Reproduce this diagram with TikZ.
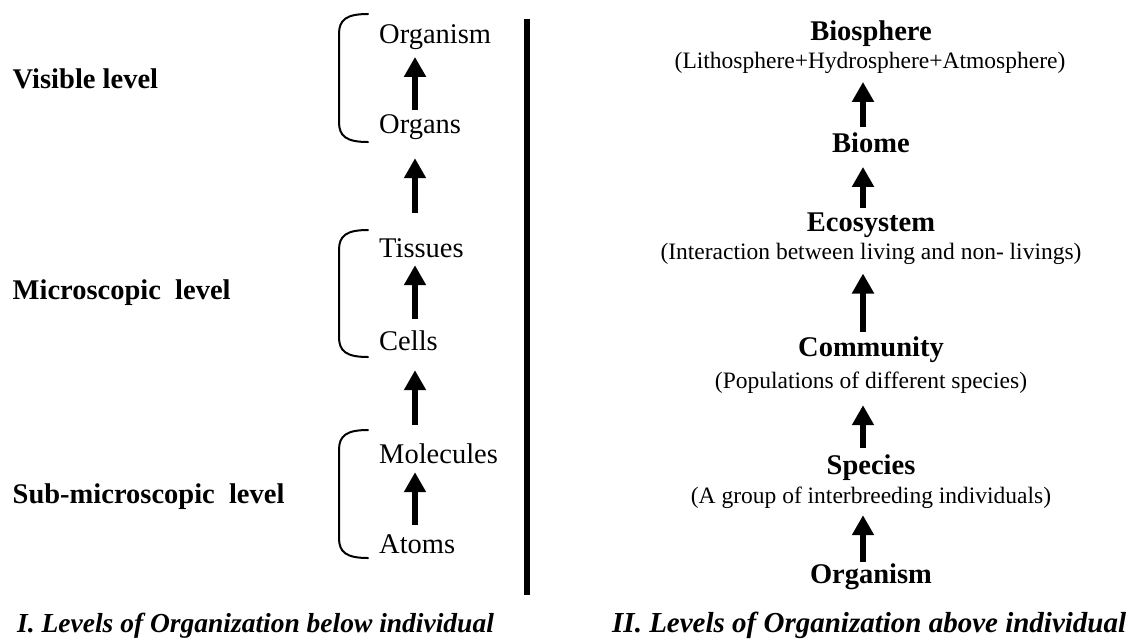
\documentclass[tikz,border=0pt]{standalone}
\usepackage{fontspec}
\setmainfont{Liberation Serif}
\usetikzlibrary{arrows.meta}
\tikzset{
  item/.style={inner sep=0pt, text height=19pt, text depth=6pt, anchor=base,
    font=\fontsize{28.5}{30}\selectfont},
  itemL/.style={item, anchor=base west},
  title/.style={item, font=\fontsize{28.5}{30}\selectfont\bfseries},
  sub/.style={inner sep=0pt, text height=16pt, text depth=5pt, anchor=base,
    font=\fontsize{23.5}{25}\selectfont},
  levlabel/.style={inner sep=0pt, anchor=base west, font=\fontsize{28.5}{30}\selectfont\bfseries},
  caption/.style={inner sep=0pt, anchor=base west, font=\bfseries\itshape},
  lvlarrow/.style={line width=6pt, -{Triangle[width=21pt,length=20pt]}},
  brace/.style={line width=2pt, line cap=round},
  divider/.style={line width=6pt}
}
\begin{document}
\begin{tikzpicture}[x=1pt,y=-1pt]
\useasboundingbox (0,0) rectangle (1134,638);
% arrow axes
\coordinate (lax) at (415,0);
\coordinate (rax) at (863,0);
% left column labels
\node[levlabel] (vis) at (12.5,88) {Visible level};
\node[levlabel] (mic) at (12.5,299) {Microscopic\ \ level};
\node[levlabel] (sub) at (12.5,503) {Sub-microscopic\ \ level};
% left column items
\node[itemL] (organismL) at (379,43.3) {Organism};
\node[itemL] (organs) at (379,133.3) {Organs};
\node[itemL] (tissues) at (379,257.3) {Tissues};
\node[itemL] (cells) at (379,350) {Cells};
\node[itemL] (molecules) at (379,463.3) {Molecules};
\node[itemL] (atoms) at (379,553.3) {Atoms};
% brackets
\draw[brace] (368,14) .. controls (346,14) and (339,20) .. (339,34) -- (339,122) .. controls (339,136) and (346,142) .. (368,142);
\draw[brace] (368,230) .. controls (346,230) and (339,236) .. (339,250) -- (339,337) .. controls (339,351) and (346,357) .. (368,357);
\draw[brace] (368,430) .. controls (346,430) and (339,436) .. (339,450) -- (339,538) .. controls (339,552) and (346,558) .. (368,558);
% left arrows
\draw[lvlarrow, shorten <=4.3pt, shorten >=7.4pt] (organs.north -| lax) -- (organismL.south -| lax);
\draw[lvlarrow, shorten <=25.3pt, shorten >=18.7pt] (tissues.north -| lax) -- (organs.south -| lax);
\draw[lvlarrow, shorten <=11.7pt, shorten >=1.7pt] (cells.north -| lax) -- (tissues.south -| lax);
\draw[lvlarrow, shorten <=19.3pt, shorten >=14pt] (molecules.north -| lax) -- (cells.south -| lax);
\draw[lvlarrow, shorten <=9.3pt, shorten >=2.7pt] (atoms.north -| lax) -- (molecules.south -| lax);
% divider
\coordinate (dtop) at (527,19);
\coordinate (dbot) at (527,595);
\draw[divider] (dtop) -- (dbot);
% right column
\node[title] (biosphere) at (871,40.7) {Biosphere};
\node[sub] (biosub) at (870,68.3) {(Lithosphere+Hydrosphere+Atmosphere)};
\node[title] (biome) at (871,152.7) {Biome};
\node[title] (ecosystem) at (871,231.7) {Ecosystem};
\node[sub] (ecosub) at (871,259.3) {(Interaction between living and non- livings)};
\node[title] (community) at (871,356.7) {Community};
\node[sub] (comsub) at (871,388.3) {(Populations of different species)};
\node[title] (species) at (871,474.3) {Species};
\node[sub] (specsub) at (871,503.3) {(A group of interbreeding individuals)};
\node[title] (organismR) at (871,583.3) {Organism};
% right arrows
\draw[lvlarrow, shorten <=7pt, shorten >=8.4pt] (biome.north -| rax) -- (biosub.south -| rax);
\draw[lvlarrow, shorten <=4.4pt, shorten >=8pt] (ecosystem.north -| rax) -- (biome.south -| rax);
\draw[lvlarrow, shorten <=6pt, shorten >=9pt] (community.north -| rax) -- (ecosub.south -| rax);
\draw[lvlarrow, shorten <=7pt, shorten >=11.7pt] (species.north -| rax) -- (comsub.south -| rax);
\draw[lvlarrow, shorten <=2.6pt, shorten >=6.7pt] (organismR.north -| rax) -- (specsub.south -| rax);
% captions
\node[caption, font=\fontsize{27.5}{29}\selectfont\bfseries\itshape] (capL) at (17,632) {I. Levels of Organization below individual};
\node[caption, font=\fontsize{29}{30}\selectfont\bfseries\itshape] (capR) at (612,632) {II. Levels of Organization above individual};
\end{tikzpicture}
\end{document}
